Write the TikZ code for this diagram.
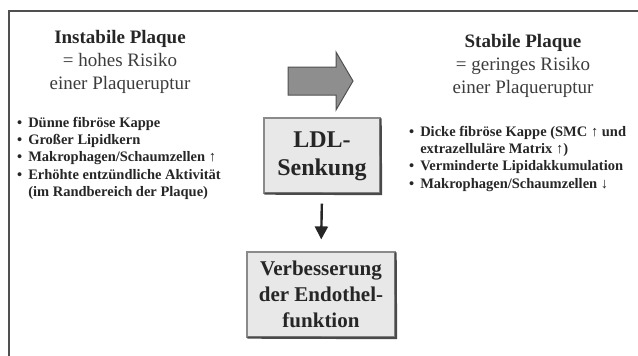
\documentclass[tikz,border=0pt]{standalone}
\usepackage{fontspec}
\setmainfont{Liberation Serif}
\usetikzlibrary{arrows.meta}
\definecolor{txt}{HTML}{262626}
\definecolor{txtl}{HTML}{3C3C3C}
\definecolor{boxfill}{HTML}{E8E8E8}
\definecolor{boxline}{HTML}{8A8A8A}
\definecolor{boxdark}{HTML}{4A4A4A}
\definecolor{arrfill}{HTML}{8E8E8E}
\definecolor{arrline}{HTML}{505050}
\tikzset{
  heading/.style={text=txt, align=center, font=\fontsize{19}{23}\selectfont},
  listtxt/.style={text=txt, anchor=north west, inner sep=0pt, font=\fontsize{14.5}{17.3}\selectfont\bfseries},
  bevelbox/.style={draw=boxline, fill=boxfill, line width=1.2pt, inner sep=0pt, text=txt, align=center},
  frameline/.style={draw=arrline, line width=1.5pt},
}
\begin{document}
\begin{tikzpicture}[x=1pt,y=-1pt]
\useasboundingbox (0,0) rectangle (638,356);
% frame
\draw[frameline] (9,356) -- (9,11) -- (638,11);
% headings
\node[heading] (instab) at (120,62) {\textbf{Instabile Plaque}\\\textcolor{txtl}{= hohes Risiko}\\\textcolor{txtl}{einer Plaqueruptur}};
\node[heading] (stab) at (523,66) {\textbf{Stabile Plaque}\\\textcolor{txtl}{= geringes Risiko}\\\textcolor{txtl}{einer Plaqueruptur}};
% lists
\node[listtxt] (llist) at (17,115) {\begin{tabular}{@{}l@{\hspace{6pt}}l@{}}
\textbullet & Dünne fibröse Kappe\\
\textbullet & Großer Lipidkern\\
\textbullet & Makrophagen/Schaumzellen \textmd{↑}\\
\textbullet & Erhöhte entzündliche Aktivität\\
 & (im Randbereich der Plaque)
\end{tabular}};
\node[listtxt] (rlist) at (409,124) {\begin{tabular}{@{}l@{\hspace{6pt}}l@{}}
\textbullet & Dicke fibröse Kappe (SMC \textmd{↑} und\\
 & extrazelluläre Matrix \textmd{↑})\\
\textbullet & Verminderte Lipidakkumulation\\
\textbullet & Makrophagen/Schaumzellen \textmd{↓}
\end{tabular}};
% big arrow
\draw[fill=arrfill, draw=arrline, line width=1pt, line join=miter]
  (288,67) -- (336,67) -- (336,52) -- (353,81) -- (336,110) -- (336,95) -- (288,95) -- cycle;
% boxes
\node[bevelbox, minimum width=116pt, minimum height=75pt, font=\fontsize{24}{28}\selectfont\bfseries] (ldl) at (322,155.5) {\raisebox{3pt}{\begin{tabular}{@{}c@{}}LDL-\\Senkung\end{tabular}}};
\draw[boxdark, line width=2.2pt] ([xshift=1pt]ldl.south west) -- ([xshift=0.5pt,yshift=-0.5pt]ldl.south east) -- ([yshift=-1pt]ldl.north east);
\node[bevelbox, minimum width=148pt, minimum height=85pt, font=\fontsize{21}{26}\selectfont\bfseries] (verb) at (321,294.5) {Verbesserung\\der Endothel-\\funktion};
\draw[boxdark, line width=2.2pt] ([xshift=1pt]verb.south west) -- ([xshift=0.5pt,yshift=-0.5pt]verb.south east) -- ([yshift=-1pt]verb.north east);
% connector
\draw[txt, line width=2.4pt, -{Triangle[width=13pt,length=13pt]}, shorten <=10pt, shorten >=12pt] (ldl.south) -- (verb.north);
\end{tikzpicture}
\end{document}
